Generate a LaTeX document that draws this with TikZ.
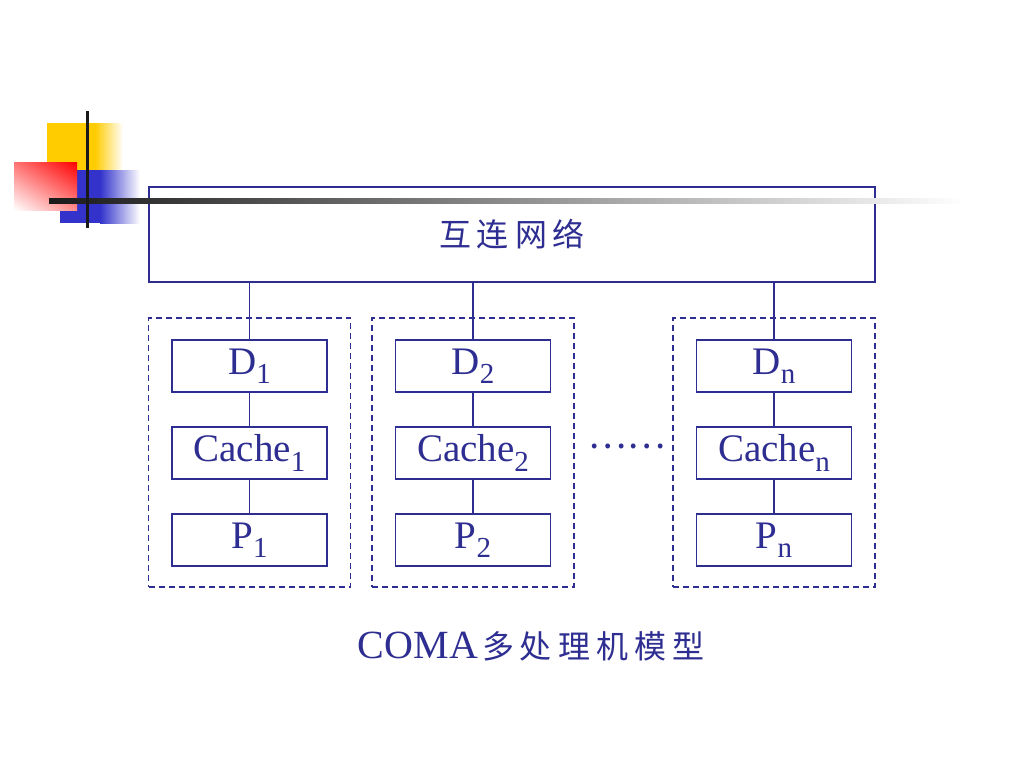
\documentclass[tikz,border=0pt]{standalone}
\usepackage{fontspec}
\usetikzlibrary{shadings}
\setmainfont{Liberation Serif}
\newfontfamily\cjk{Noto Sans CJK SC}
\definecolor{ink}{RGB}{46,46,146}
\definecolor{ylw}{RGB}{255,204,0}
\definecolor{blu}{RGB}{51,51,204}
\newcommand\subx[1]{\raisebox{-0.24em}{\fontsize{29}{32}\selectfont #1}}
\begin{document}
\begin{tikzpicture}[x=1pt,y=-1pt,
  box/.style={draw=ink, line width=1.2pt, minimum width=155pt, minimum height=52pt, inner sep=0pt, text=ink, font=\fontsize{39}{42}\selectfont},
  group/.style={draw=ink, line width=1.2pt, dash pattern=on 6pt off 4pt, minimum width=202pt, minimum height=269pt, inner sep=0pt},
  link/.style={draw=ink, line width=1.1pt}]
\useasboundingbox[fill=white] (0,0) rectangle (1024,768);
% logo
\fill[ylw] (47,123) rectangle (95,172);
\shade[left color=ylw, right color=white] (95,123) rectangle (123,172);
\fill[blu] (60,170) rectangle (100,223);
\shade[left color=blu, right color=white] (100,170) rectangle (140,223);
\shade[upper right=red, upper left=red!55!white, lower right=red!45!white, lower left=white] (14,162) rectangle (77,210);
% network
\node[box, minimum width=726pt, minimum height=95pt, font=\fontsize{32}{40}\selectfont\cjk] (net) at (512,234.5) {\raisebox{3pt}{互\kern6pt连\kern6pt网\kern6pt络}};
\shade[left color=black!90, right color=white] (49,198.5) rectangle (965,203.5);
\fill[black!90] (85.5,111) rectangle (88.5,228);
% groups
\node[group] (g1) at (249.5,452.5) {};
\node[group] (g2) at (473,452.5) {};
\node[group] (g3) at (774,452.5) {};
% columns
\node[box] (d1) at (249.5,366) {D\subx{1}};
\node[box] (c1) at (249.5,453) {Cache\subx{1}};
\node[box] (p1) at (249.5,540) {P\subx{1}};
\node[box] (d2) at (473,366) {D\subx{2}};
\node[box] (c2) at (473,453) {Cache\subx{2}};
\node[box] (p2) at (473,540) {P\subx{2}};
\node[box] (d3) at (774,366) {D\subx{n}};
\node[box] (c3) at (774,453) {Cache\subx{n}};
\node[box] (p3) at (774,540) {P\subx{n}};
% connectors
\foreach \i in {1,2,3}{
  \draw[link] (d\i.north) -- (d\i.north |- net.south);
  \draw[link] (d\i.south) -- (c\i.north);
  \draw[link] (c\i.south) -- (p\i.north);
}
\node[text=ink, font=\fontsize{36}{40}\selectfont\cjk, inner sep=0pt] (dots) at (627,446) {……};
\node[text=ink, anchor=base, inner sep=0pt, font=\fontsize{40}{44}\selectfont] (cap) at (531,658) {COMA{\cjk\fontsize{32}{40}\selectfont\kern4pt 多\kern6pt处\kern6pt理\kern6pt机\kern6pt模\kern6pt型}};
\end{tikzpicture}
\end{document}
